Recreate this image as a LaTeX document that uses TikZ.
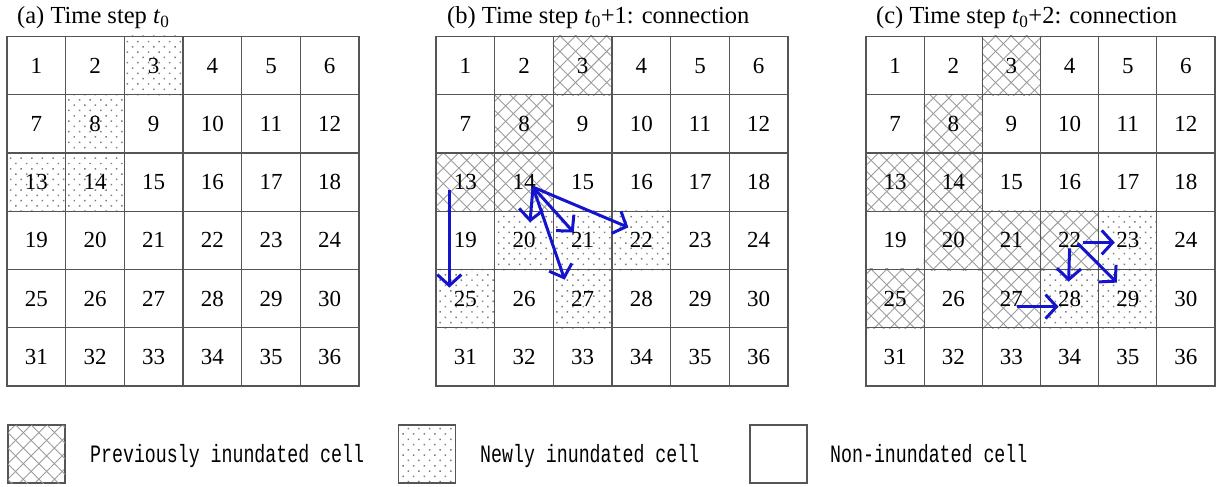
\documentclass[tikz,border=0pt]{standalone}
\usepackage{fontspec}
\setmainfont{Liberation Serif}
\newfontfamily\legendfont[FakeStretch=0.73]{Liberation Mono}
\usetikzlibrary{patterns.meta,arrows.meta}

\definecolor{flowblue}{RGB}{20,20,205}
\definecolor{gridline}{RGB}{85,85,85}
\definecolor{hatchgray}{RGB}{155,155,155}
\definecolor{dotgray}{RGB}{125,125,125}

\pgfdeclarelayer{bg}
\pgfsetlayers{bg,main}

\tikzset{
  cellbox/.style={draw=gridline, line width=1.1pt, minimum height=58.25pt,
    inner sep=0pt, font=\fontsize{23}{27}\selectfont},
  wetold/.style={pattern={Lines[angle=45,distance=11pt,line width=0.9pt]},
    pattern color=hatchgray,
    postaction={pattern={Lines[angle=-45,distance=11pt,line width=0.9pt]},
      pattern color=hatchgray}},
  wetnew/.style={pattern={Dots[angle=45,distance=7.5pt,radius=1.05pt]},
    pattern color=dotgray},
  flow/.style={draw=flowblue, line width=3pt,
    -{Straight Barb[length=11pt,width=24pt]}},
  paneltitle/.style={anchor=base west, inner sep=0pt,
    font=\fontsize{24.5}{28}\selectfont},
  keybox/.style={draw=gridline, line width=1.1pt, minimum width=57pt,
    minimum height=58pt, inner sep=0pt},
  keytext/.style={anchor=base west, inner sep=0pt,
    font=\legendfont\fontsize{25}{28}\selectfont},
}

\begin{document}
\begin{tikzpicture}[x=1pt,y=-1pt]
\useasboundingbox (0,0) rectangle (1223,487);

% panel titles
\node[paneltitle] (ta) at (17,24) {(a) Time step \textit{t}\textsubscript{0}};
\node[paneltitle] (tb) at (447,24) {(b) Time step \textit{t}\textsubscript{0}+1: connection};
\node[paneltitle] (tc) at (876,24) {(c) Time step \textit{t}\textsubscript{0}+2: connection};

% the three 6x6 grids of numbered cells
\foreach \p/\x/\w in {a/7/58.67, b/436/58.67, c/866/58.17} {
  \foreach \i in {1,...,36} {
    \pgfmathtruncatemacro\col{mod(\i-1,6)}
    \pgfmathtruncatemacro\row{div(\i-1,6)}
    \node[cellbox, minimum width=\w pt] (\p\i)
      at ({\x+(\col+0.5)*\w}, {36.5+(\row+0.5)*58.25}) {\i};
  }
}

% inundation fills behind the cell borders
\begin{pgfonlayer}{bg}
  \foreach \c in {b3,b8,b13,b14,c3,c8,c13,c14,c20,c21,c22,c25,c27}
    \path[wetold] (\c.south west) rectangle (\c.north east);
  \foreach \c in {a3,a8,a13,a14,b20,b21,b22,b25,b27,c23,c28,c29}
    \path[wetnew] (\c.south west) rectangle (\c.north east);
\end{pgfonlayer}

% connections at t0+1
\draw[flow] ([shift={(9,5)}]b14.center) -- ([shift={(6,-18)}]b20.center);
\draw[flow] ([shift={(9,5)}]b14.center) -- ([shift={(-9,-8)}]b21.center);
\draw[flow] ([shift={(9,5)}]b14.center) -- ([shift={(-13,-13)}]b22.center);
\draw[flow] ([shift={(9,5)}]b14.center) -- ([shift={(-18,-19)}]b27.center);
\draw[flow] ([shift={(-16,8)}]b13.center) -- ([shift={(-16,-11)}]b25.center);

% connections at t0+2
\draw[flow] ([shift={(13,2)}]c22.center) -- ([shift={(-13,2)}]c23.center);
\draw[flow] ([shift={(0,8)}]c22.center) -- ([shift={(-1,-17)}]c28.center);
\draw[flow] ([shift={(8,3)}]c22.center) -- ([shift={(-11,-16)}]c29.center);
\draw[flow] ([shift={(6,8)}]c27.center) -- ([shift={(-11,8)}]c28.center);

% legend
\node[keybox, wetold] (k1) at (36.5,454) {};
\node[keytext] (k1t) at (90,462) {Previously inundated cell};
\node[keybox, wetnew] (k2) at (427,454) {};
\node[keytext] (k2t) at (480,462) {Newly inundated cell};
\node[keybox] (k3) at (778.5,454) {};
\node[keytext] (k3t) at (830,462) {Non-inundated cell};
\end{tikzpicture}
\end{document}
